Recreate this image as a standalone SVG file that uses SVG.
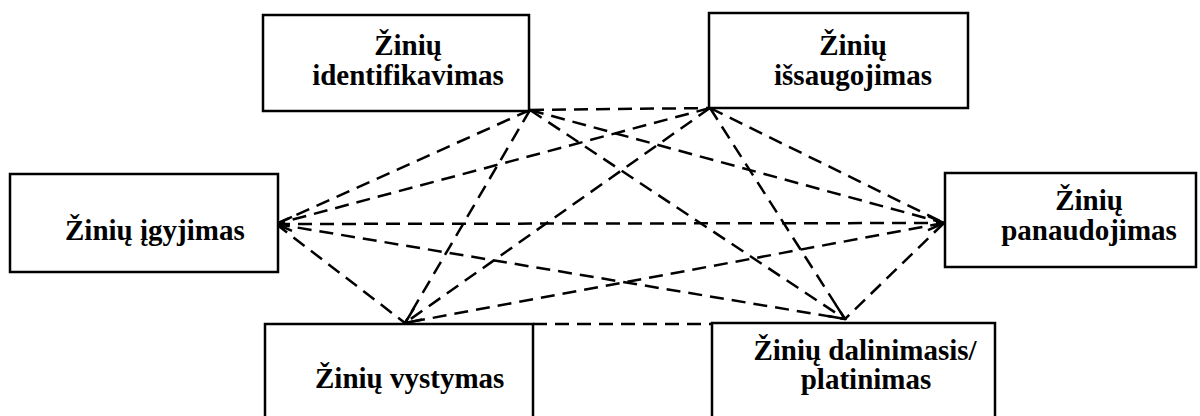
<svg xmlns="http://www.w3.org/2000/svg" width="1200" height="416" viewBox="0 0 1200 416">
  <style>
    .box { fill: #fff; stroke: #000; stroke-width: 2.5; }
    .mid { text-anchor: middle; }
    .link { stroke: #000; stroke-width: 2.5; stroke-dasharray: 14 8; fill: none; }
  </style>
  <defs>
    <marker id="head" viewBox="-18 -9 20 18" refX="0" refY="0" markerWidth="20" markerHeight="18" markerUnits="userSpaceOnUse" orient="auto-start-reverse">
      <path d="M-16,-7 L0,0 L-16,7" fill="none" stroke="#000" stroke-width="2.5"/>
    </marker>
  </defs>

  <rect width="1200" height="416" fill="#fff"/>

  <!-- dashed links between every pair of stages -->
  <g id="connectors">
    <line class="link" x1="530" y1="110" x2="710" y2="108"/>
    <line class="link" x1="530" y1="110" x2="276" y2="224"/>
    <line class="link" x1="530" y1="110" x2="944" y2="223"/>
    <line class="link" x1="530" y1="110" x2="405" y2="323"/>
    <line class="link" x1="530" y1="110" x2="845" y2="319" marker-end="url(#head)"/>
    <line class="link" x1="710" y1="108" x2="276" y2="224"/>
    <line class="link" x1="710" y1="108" x2="944" y2="223"/>
    <line class="link" x1="710" y1="108" x2="405" y2="323" marker-end="url(#head)"/>
    <line class="link" x1="710" y1="108" x2="845" y2="319"/>
    <line class="link" x1="276" y1="224" x2="944" y2="223" marker-start="url(#head)" marker-end="url(#head)"/>
    <line class="link" x1="276" y1="224" x2="405" y2="323"/>
    <line class="link" x1="276" y1="224" x2="845" y2="319"/>
    <line class="link" x1="944" y1="223" x2="405" y2="323"/>
    <line class="link" x1="944" y1="223" x2="845" y2="319"/>
    <line class="link" x1="533" y1="324" x2="712" y2="324"/>
  </g>

  <g font-family="Liberation Serif, Times New Roman, serif" font-weight="bold" font-size="29" fill="#000">
    <g id="node-identifikavimas">
      <rect class="box" x="263" y="15" width="266" height="96"/>
      <text class="mid" x="408" y="55">Žinių</text>
      <text class="mid" x="408" y="85">identifikavimas</text>
    </g>

    <g id="node-issaugojimas">
      <rect class="box" x="709" y="13" width="259" height="95"/>
      <text class="mid" x="853" y="55">Žinių</text>
      <text class="mid" x="853" y="85">išsaugojimas</text>
    </g>

    <g id="node-igyjimas">
      <rect class="box" x="10" y="174" width="268" height="98"/>
      <text x="65" y="240">Žinių įgyjimas</text>
    </g>

    <g id="node-panaudojimas">
      <rect class="box" x="945" y="173" width="251" height="94"/>
      <text class="mid" x="1089" y="210">Žinių</text>
      <text class="mid" x="1089" y="240">panaudojimas</text>
    </g>

    <g id="node-vystymas">
      <rect class="box" x="265" y="324" width="268" height="100"/>
      <text x="315" y="388">Žinių vystymas</text>
    </g>

    <g id="node-dalinimasis">
      <rect class="box" x="712" y="323" width="283" height="100"/>
      <text class="mid" x="865" y="360">Žinių dalinimasis/</text>
      <text class="mid" x="866" y="389">platinimas</text>
    </g>
  </g>
</svg>
